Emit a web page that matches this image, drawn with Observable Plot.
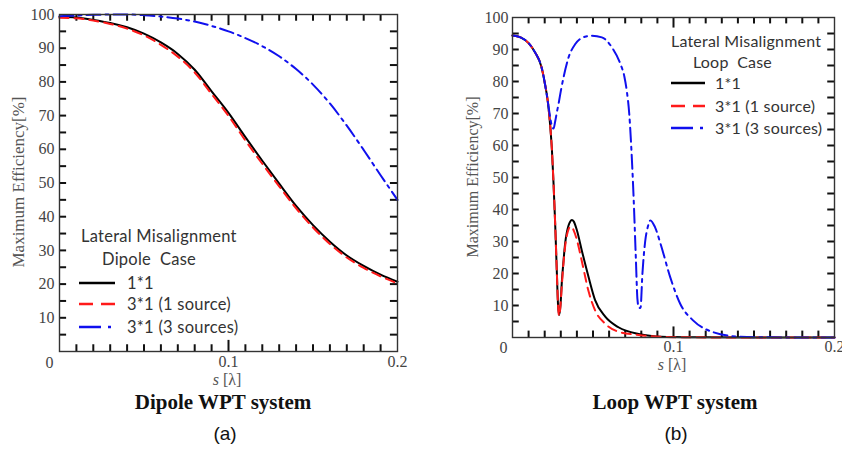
<!DOCTYPE html>
<html><head><meta charset="utf-8">
<script src="https://cdn.jsdelivr.net/npm/d3@7"></script>
<script src="https://cdn.jsdelivr.net/npm/@observablehq/plot@0.6"></script>
<style>
body{margin:0;background:#fff;}
#wrap{position:relative;width:842px;height:449px;overflow:hidden;background:#fff;}
.abs{position:absolute;white-space:nowrap;line-height:1;}
.ylab{font-family:"Liberation Serif",serif;color:#555;transform:translate(-50%,-50%) rotate(-90deg);}
.xlab{font-family:"Liberation Serif",serif;color:#555;font-size:16px;transform:translate(-50%,-50%);}
.title{font-family:"Liberation Serif",serif;font-weight:bold;font-size:21px;color:#111;transform:translate(-50%,-50%);}
.sub{font-family:"Liberation Sans",Arial,sans-serif;font-size:19px;color:#111;transform:translate(-50%,-50%);}
.leg{font-family:Lato,"Open Sans",sans-serif;color:#333;transform:translateY(-50%);}
.legsvg{position:absolute;overflow:visible;}
</style></head><body><div id="wrap"></div>
<script>
// ---------- Data: Dipole WPT system (panel a) ----------
const sDipole = [0,0.01,0.02,0.03,0.04,0.05,0.06,0.07,0.08,0.09,0.10,0.11,0.12,0.13,0.14,0.15,0.16,0.17,0.18,0.19,0.20];
const dipole11 = [99.3,99.1,98.4,97.5,96.2,94.3,91.7,88.3,83.6,77.2,70.8,63.6,56.6,49.8,43.2,37.5,32.6,28.5,25.4,22.8,20.7];
const dipole31one = [99.0,98.9,98.2,97.2,95.8,93.8,91.0,87.5,82.8,76.4,69.9,62.6,55.7,49.0,42.5,36.8,31.9,27.9,24.8,22.3,20.2];
const dipole31three = [99.5,99.7,99.9,100,100,99.8,99.4,98.8,97.9,96.6,95.0,93.0,90.6,87.6,83.8,79.2,73.6,67.0,59.8,52.3,45.0];

// ---------- Data: Loop WPT system (panel b) ----------
const sLoopA = [0,0.005,0.01,0.014,0.018,0.02,0.022,0.0235,0.0245,0.0255,0.0265,0.0275,0.0283,0.029,0.0298,0.0306,0.0317,0.0327,0.0338,0.0348,0.0358,0.0369,0.038,0.04,0.043,0.0472,0.0513,0.0576,0.0658,0.0783,0.0865,0.1,0.12,0.15,0.2];
const loop11 = [94.4,93.8,92.0,89.1,84.5,79.7,73.5,65.7,58.5,48.0,35.6,21.0,10.0,7.0,10.0,17.0,24.0,29.4,33.0,35.0,36.2,36.7,36.3,33.5,27.3,19.0,11.7,6.5,3.2,1.1,0.5,0.15,0.05,0,0];
const loop31one = [94.4,93.8,92.0,89.1,84.5,79.7,73.5,65.7,58.5,48.0,35.6,21.0,10.0,6.8,10.0,16.0,23.5,28.5,32.0,33.8,34.6,34.5,33.5,30.5,24.0,14.5,8.5,4.3,1.8,0.8,0.4,0.1,0.03,0,0];
const sLoopB = [0,0.005,0.01,0.014,0.018,0.02,0.022,0.0235,0.0245,0.0255,0.0265,0.0276,0.0286,0.03,0.0317,0.0348,0.039,0.045,0.0493,0.0555,0.0617,0.067,0.0695,0.071,0.0725,0.0735,0.0752,0.0766,0.0776,0.0785,0.0795,0.0807,0.0824,0.084,0.0857,0.0885,0.092,0.098,0.1043,0.1125,0.125,0.14,0.16,0.2];
const loop31three = [94.4,93.8,92.0,89.1,84.5,79.7,73.5,68.5,66.0,65.3,67.5,70.5,73.0,77.0,81.3,87.5,91.7,94.0,94.3,93.8,90.7,85.5,81.5,77.0,70.0,62.0,44.0,25.0,12.0,9.3,9.2,20.0,30.0,34.5,36.6,34.5,29.2,18.8,10.4,5.2,1.6,0.3,0.05,0];

// ---------- Axis ticks / labels ----------
const yMinorTicks = [5,10,15,20,25,30,35,40,45,50,55,60,65,70,75,80,85,90,95];
const yTickLabels = [10,20,30,40,50,60,70,80,90,100];
const xMinorTicks = [0.01,0.02,0.03,0.04,0.05,0.06,0.07,0.08,0.09,0.11,0.12,0.13,0.14,0.15,0.16,0.17,0.18,0.19];
const xMajorTicks = [0.1];
const xTickLabels = [0.1,0.2];
const originLabel = [{s:0, e:0, t:"0"}];

const seriesNames = ["1*1","3*1 (1 source)","3*1 (3 sources)"];
const seriesColors = ["#000000","#ff1a1a","#1010ee"];
const seriesDash = [null,"9,6","14,5,3,5"];

function rows(s, v){ return s.map((x,i)=>({s:x, e:v[i]})); }

const wrap = document.getElementById("wrap");
function place(el, left, top){ el.style.position="absolute"; el.style.left=left+"px"; el.style.top=top+"px"; wrap.appendChild(el); }

const SERIF = "'Liberation Serif', 'Times New Roman', serif";

function panel(cfg){
  const ax = "#111";
  const sw = 2;
  // inward tick lengths, expressed in each scale's own units
  const tx = 0.0042, ty = 2.0, TY = 3.3;
  const marks = [
    Plot.ruleY(yMinorTicks, {y: d => d, x1: 0, x2: tx, stroke: ax, strokeWidth: sw}),
    Plot.ruleY(yMinorTicks, {y: d => d, x1: 0.2 - tx, x2: 0.2, stroke: ax, strokeWidth: sw}),
    Plot.ruleX(xMinorTicks, {x: d => d, y1: 0, y2: ty, stroke: ax, strokeWidth: sw}),
    Plot.ruleX(xMinorTicks, {x: d => d, y1: 100 - ty, y2: 100, stroke: ax, strokeWidth: sw}),
    Plot.ruleX(xMajorTicks, {x: d => d, y1: 0, y2: TY, stroke: ax, strokeWidth: sw}),
    Plot.ruleX(xMajorTicks, {x: d => d, y1: 100 - TY, y2: 100, stroke: ax, strokeWidth: sw}),
    Plot.axisY(yTickLabels, {anchor:"left", tickSize:0, tickPadding:cfg.yPad, fill:"#444", label:null, fontFamily:SERIF, fontSize:16}),
    Plot.axisX(xTickLabels, {anchor:"bottom", tickSize:0, tickPadding:cfg.xPad, fill:"#444", label:null, fontFamily:SERIF, fontSize:16, tickFormat: d => String(d)}),
    Plot.text(originLabel, {x:"s", y:"e", text:"t", dx:cfg.oDx, dy:cfg.oDy, textAnchor:"end", fill:"#444", fontFamily:SERIF, fontSize:16}),
  ];
  cfg.series.forEach((d,i)=>{
    marks.push(Plot.line(d, {x:"s", y:"e", stroke:seriesColors[i], strokeWidth:2, strokeDasharray:seriesDash[i], curve:"monotone-x"}));
  });
  marks.push(Plot.frame({stroke:"#333", strokeWidth:1.4}));
  const p = Plot.plot({
    width: cfg.width, height: cfg.height,
    marginLeft: cfg.mL, marginRight: cfg.mR, marginTop: cfg.mT, marginBottom: cfg.mB,
    x: {domain:[0,0.2], label:null},
    y: {domain:[0,100], label:null},
    style: {fontFamily:SERIF, fontSize:"16px", background:"transparent", overflow:"visible"},
    marks
  });
  place(p, cfg.left, 0);
}

panel({left:0, width:420, height:400, mL:59, mR:23, mT:14, mB:49, yPad:5, xPad:4, oDx:-6, oDy:11,
  series:[rows(sDipole,dipole11), rows(sDipole,dipole31one), rows(sDipole,dipole31three)]});
panel({left:420, width:422, height:400, mL:92, mR:8, mT:17, mB:63, yPad:4, xPad:3, oDx:-5, oDy:10,
  series:[rows(sLoopA,loop11), rows(sLoopA,loop31one), rows(sLoopB,loop31three)]});

function txt(cls, text, left, top, extra){
  const d = document.createElement("div");
  d.className = "abs " + cls;
  if (typeof text === "string") d.textContent = text; else d.innerHTML = text.html;
  if (extra) Object.assign(d.style, extra);
  place(d, left, top);
  return d;
}

// axis titles
txt("ylab", "Maximum Efficiency[%]", 18, 182, {fontSize:"17px"});
txt("ylab", "Maximum Efficiency[%]", 473, 177, {fontSize:"16px"});
txt("xlab", {html:'<i>s</i> [λ]'}, 227, 380);
txt("xlab", {html:'<i>s</i> [λ]'}, 672, 365);
// panel titles
txt("title", "Dipole WPT system", 223, 402);
txt("title", "Loop WPT system", 675, 402);
txt("sub", "(a)", 225, 433);
txt("sub", "(b)", 676, 433);

// legends
function legend(cfg){
  const st = {fontSize: cfg.fs + "px", letterSpacing: cfg.ls + "px"};
  txt("leg", cfg.head1, cfg.hx1, cfg.hy1, st);
  txt("leg", cfg.head2, cfg.hx2, cfg.hy2, st);
  seriesNames.forEach((name,i)=>{
    const y = cfg.rowY[i];
    const svg = document.createElementNS("http://www.w3.org/2000/svg","svg");
    svg.setAttribute("class","legsvg");
    svg.setAttribute("width", cfg.lx2 - cfg.lx1);
    svg.setAttribute("height", 4);
    const ln = document.createElementNS("http://www.w3.org/2000/svg","line");
    ln.setAttribute("x1",0); ln.setAttribute("x2",cfg.lx2-cfg.lx1);
    ln.setAttribute("y1",2); ln.setAttribute("y2",2);
    ln.setAttribute("stroke",seriesColors[i]); ln.setAttribute("stroke-width",2.5);
    if (seriesDash[i]) ln.setAttribute("stroke-dasharray", i===1 ? "14,8" : "22,7,3,7");
    svg.appendChild(ln);
    place(svg, cfg.lx1, y-2);
    txt("leg", name, cfg.tx, y, st);
  });
}
legend({head1:"Lateral Misalignment", hx1:81, hy1:236, head2:"Dipole\u00a0 Case", hx2:102, hy2:259,
  rowY:[283,304,327], lx1:79, lx2:115, tx:127, fs:16.5, ls:0.25});
legend({head1:"Lateral Misalignment", hx1:671, hy1:41, head2:"Loop\u00a0 Case", hx2:693, hy2:62,
  rowY:[83,106,128], lx1:671, lx2:705, tx:715, fs:16, ls:0.2});
</script>
</body></html>
